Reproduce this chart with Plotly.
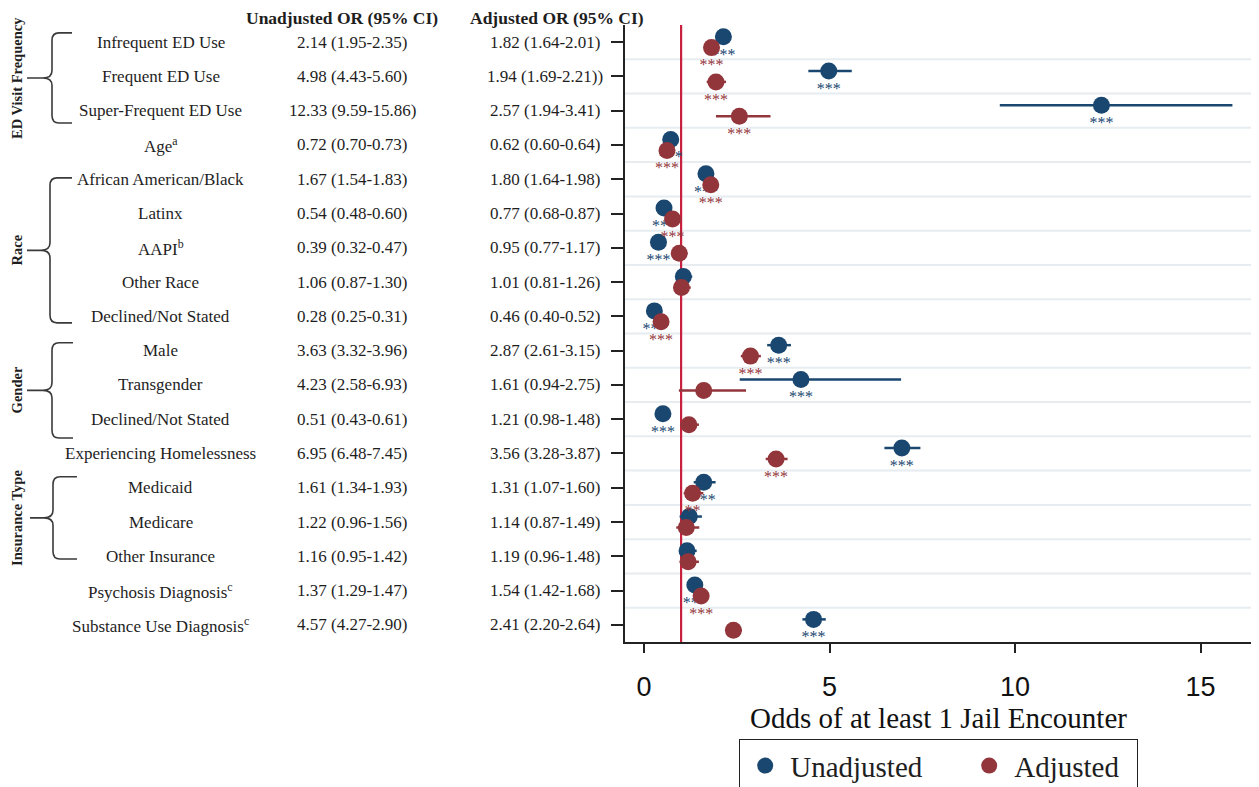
import plotly.graph_objects as go

# ---------------- data ----------------
labels = ["Infrequent ED Use", "Frequent ED Use", "Super-Frequent ED Use", "Age<sup>a</sup>",
          "African American/Black", "Latinx", "AAPI<sup>b</sup>", "Other Race", "Declined/Not Stated",
          "Male", "Transgender", "Declined/Not Stated", "Experiencing Homelessness",
          "Medicaid", "Medicare", "Other Insurance", "Psychosis Diagnosis<sup>c</sup>",
          "Substance Use Diagnosis<sup>c</sup>"]

unadj_or = [2.14, 4.98, 12.33, 0.72, 1.67, 0.54, 0.39, 1.06, 0.28, 3.63, 4.23, 0.51, 6.95, 1.61, 1.22, 1.16, 1.37, 4.57]
unadj_lo = [1.95, 4.43, 9.59, 0.70, 1.54, 0.48, 0.32, 0.87, 0.25, 3.32, 2.58, 0.43, 6.48, 1.34, 0.96, 0.95, 1.29, 4.27]
unadj_hi = [2.35, 5.60, 15.86, 0.73, 1.83, 0.60, 0.47, 1.30, 0.31, 3.96, 6.93, 0.61, 7.45, 1.93, 1.56, 1.42, 1.47, 4.90]
unadj_sig = ["***", "***", "***", "***", "***", "***", "***", "", "***", "***", "***", "***", "***", "***", "", "", "***", "***"]

adj_or = [1.82, 1.94, 2.57, 0.62, 1.80, 0.77, 0.95, 1.01, 0.46, 2.87, 1.61, 1.21, 3.56, 1.31, 1.14, 1.19, 1.54, 2.41]
adj_lo = [1.64, 1.69, 1.94, 0.60, 1.64, 0.68, 0.77, 0.81, 0.40, 2.61, 0.94, 0.98, 3.28, 1.07, 0.87, 0.96, 1.42, 2.20]
adj_hi = [2.01, 2.21, 3.41, 0.64, 1.98, 0.87, 1.17, 1.26, 0.52, 3.15, 2.75, 1.48, 3.87, 1.60, 1.49, 1.48, 1.68, 2.64]
adj_sig = ["***", "***", "***", "***", "***", "***", "", "", "***", "***", "", "", "***", "**", "", "", "***", "***"]

unadj_text = ["2.14 (1.95-2.35)", "4.98 (4.43-5.60)", "12.33 (9.59-15.86)", "0.72 (0.70-0.73)",
              "1.67 (1.54-1.83)", "0.54 (0.48-0.60)", "0.39 (0.32-0.47)", "1.06 (0.87-1.30)",
              "0.28 (0.25-0.31)", "3.63 (3.32-3.96)", "4.23 (2.58-6.93)", "0.51 (0.43-0.61)",
              "6.95 (6.48-7.45)", "1.61 (1.34-1.93)", "1.22 (0.96-1.56)", "1.16 (0.95-1.42)",
              "1.37 (1.29-1.47)", "4.57 (4.27-2.90)"]
adj_text = ["1.82 (1.64-2.01)", "1.94 (1.69-2.21))", "2.57 (1.94-3.41)", "0.62 (0.60-0.64)",
            "1.80 (1.64-1.98)", "0.77 (0.68-0.87)", "0.95 (0.77-1.17)", "1.01 (0.81-1.26)",
            "0.46 (0.40-0.52)", "2.87 (2.61-3.15)", "1.61 (0.94-2.75)", "1.21 (0.98-1.48)",
            "3.56 (3.28-3.87)", "1.31 (1.07-1.60)", "1.14 (0.87-1.49)", "1.19 (0.96-1.48)",
            "1.54 (1.42-1.68)", "2.41 (2.20-2.64)"]

groups = ["ED Visit Frequency", "Race", "Gender", "Insurance Type"]
group_first = [0, 4, 9, 13]
group_last = [2, 8, 11, 15]

x_ticks = [0, 5, 10, 15]
x_title = "Odds of at least 1 Jail Encounter"
col_headers = ["Unadjusted OR (95% CI)", "Adjusted OR (95% CI)"]

# ---------------- style / layout ----------------
PAGE_OFF = 8                      # default body margin of the html page
W, H = 1259 - PAGE_OFF, 787 - PAGE_OFF
L, R, T, B = 625, 1252, 25, 642   # plot area in page pixels
BLUE = "#1a476f"
RED = "#93363c"
REFRED = "#c8203f"
SERIF = "Liberation Serif, Times New Roman, serif"
SANS = "Liberation Sans, Arial, sans-serif"
TXT = "#1e1e1e"
OFF = 0.16          # vertical offset of the two series within a row
STAR_OFF = 0.55     # star label distance below marker (rows)
brace_pad = [(-0.27, 0.36), (-0.04, 0.19), (-0.23, 0.55), (-0.32, 0.08)]
brace_x = [(27, 52, 72), (27, 50, 72), (27, 52, 73), (30, 53, 77)]


def px_x(px):
    return (px - L) / (R - L)


def px_y(py):
    return (B - py) / (B - T)


rows = list(range(len(labels)))
y_un = [r - OFF for r in rows]
y_ad = [r + OFF for r in rows]


def stars(xs, ys, sig):
    keep = [i for i, s in enumerate(sig) if s]
    return [xs[i] for i in keep], [ys[i] + STAR_OFF for i in keep], [sig[i] for i in keep]


fig = go.Figure()

fig.add_trace(go.Scatter(
    x=unadj_or, y=y_un, mode="markers", name="Unadjusted", legendwidth=169,
    marker=dict(color=BLUE, size=17, line=dict(width=0)),
    error_x=dict(type="data", symmetric=False,
                 array=[h - e for h, e in zip(unadj_hi, unadj_or)],
                 arrayminus=[e - l for e, l in zip(unadj_or, unadj_lo)],
                 color=BLUE, thickness=2.5, width=0),
))
sx, sy, st = stars(unadj_or, y_un, unadj_sig)
fig.add_trace(go.Scatter(
    x=sx, y=sy, mode="text", text=st, textposition="middle center",
    showlegend=False, hoverinfo="skip", textfont=dict(family=SERIF, size=16, color=BLUE),
))
fig.add_trace(go.Scatter(
    x=adj_or, y=y_ad, mode="markers", name="Adjusted", legendwidth=117,
    marker=dict(color=RED, size=17, line=dict(width=0)),
    error_x=dict(type="data", symmetric=False,
                 array=[h - e for h, e in zip(adj_hi, adj_or)],
                 arrayminus=[e - l for e, l in zip(adj_or, adj_lo)],
                 color=RED, thickness=2.5, width=0),
))
sx, sy, st = stars(adj_or, y_ad, adj_sig)
fig.add_trace(go.Scatter(
    x=sx, y=sy, mode="text", text=st, textposition="middle center",
    showlegend=False, hoverinfo="skip", textfont=dict(family=SERIF, size=16, color=RED),
))

shapes = []
# light horizontal separators between rows
for r in rows[:-1]:
    shapes.append(dict(type="line", xref="x domain", x0=0, x1=1, yref="y", y0=r + 0.5, y1=r + 0.5,
                       line=dict(color="#e6ecef", width=2), layer="below"))
# reference line at OR = 1
shapes.append(dict(type="line", xref="x", x0=1, x1=1, yref="paper", y0=0, y1=1,
                   line=dict(color=REFRED, width=2.2), layer="between"))

annotations = []
# braces + group titles
for g, f, l, (pt, pb), (xc, xv, xe) in zip(groups, group_first, group_last, brace_pad, brace_x):
    yt, yb = f + pt, l + pb
    ym = (yt + yb) / 2
    rv = 0.22
    X = lambda p: f"{px_x(p):.5f}"
    path = (f"M {X(xe)},{yt} L {X(xv + 7)},{yt} Q {X(xv)},{yt} {X(xv)},{yt + rv} "
            f"L {X(xv)},{ym - rv} Q {X(xv)},{ym} {X(xv - 9)},{ym} L {X(xc)},{ym} "
            f"M {X(xv - 9)},{ym} Q {X(xv)},{ym} {X(xv)},{ym + rv} "
            f"L {X(xv)},{yb - rv} Q {X(xv)},{yb} {X(xv + 7)},{yb} L {X(xe)},{yb}")
    shapes.append(dict(type="path", xref="paper", yref="y", path=path,
                       line=dict(color="#3a3a3a", width=1.6), layer="above"))
    annotations.append(dict(text=f"<b>{g}</b>", xref="paper", yref="y", x=px_x(17), y=ym,
                            textangle=-90, showarrow=False, xanchor="center", yanchor="middle",
                            font=dict(family=SERIF, size=14.5, color=TXT)))

# row labels and OR columns
for r, lab, ut, at in zip(rows, labels, unadj_text, adj_text):
    for txt, cx in ((lab, 161), (ut, 352), (at, 545)):
        annotations.append(dict(text=txt, xref="paper", yref="y", x=px_x(cx), y=r, showarrow=False,
                                xanchor="center", yanchor="middle",
                                font=dict(family=SERIF, size=17, color=TXT)))

for hdr, cx in zip(col_headers, [342, 557]):
    annotations.append(dict(text=f"<b>{hdr}</b>", xref="paper", yref="paper", x=px_x(cx), y=px_y(18),
                            showarrow=False, xanchor="center", yanchor="middle",
                            font=dict(family=SERIF, size=17.5, color=TXT)))

fig.update_layout(
    width=W, height=H,
    margin=dict(l=L - PAGE_OFF, r=W - (R - PAGE_OFF), t=T - PAGE_OFF, b=H - (B - PAGE_OFF),
                autoexpand=False),
    paper_bgcolor="white", plot_bgcolor="white",
    shapes=shapes, annotations=annotations,
    showlegend=True,
    legend=dict(orientation="h", x=0.5, xanchor="center", y=px_y(739), yanchor="top",
                bordercolor="#222222", borderwidth=1.2, bgcolor="white", itemwidth=40,
                font=dict(family=SERIF, size=29, color=TXT), itemsizing="trace"),
    xaxis=dict(range=[(L - 644) / 37.1, (R - 644) / 37.1], tickvals=x_ticks, ticks="outside",
               ticklen=9, tickwidth=1.5, tickcolor="#222", showline=True, linecolor="#222",
               linewidth=1.5, showgrid=False, zeroline=False, ticklabelstandoff=11,
               automargin=True,
               tickfont=dict(family=SANS, size=27, color="#111"),
               title=dict(text=x_title, font=dict(family=SERIF, size=29, color="#111"), standoff=2)),
    yaxis=dict(range=[len(labels) - 0.5, -0.5], tickvals=rows, showticklabels=False,
               ticks="outside", ticklen=12, tickwidth=1.5, tickcolor="#222", showline=True,
               linecolor="#222", linewidth=1.5, showgrid=False, zeroline=False),
)

fig.write_html("out.html")
